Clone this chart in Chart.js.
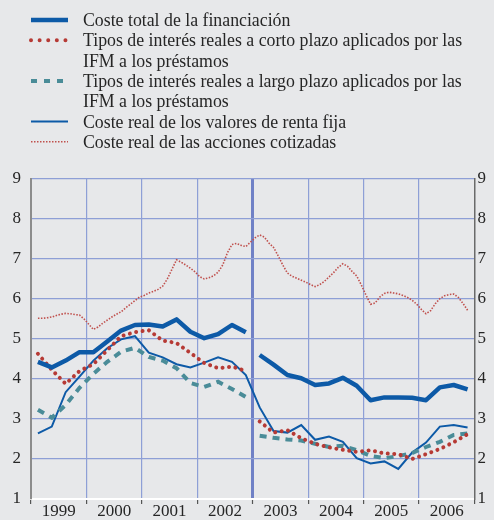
<!DOCTYPE html>
<html>
<head>
<meta charset="utf-8">
<script src="https://cdn.jsdelivr.net/npm/chart.js@4"></script>
<style>
  html, body { margin: 0; padding: 0; background: #e7e8ea; }
  #myChart { display: block; }
</style>
</head>
<body>
<canvas id="myChart" width="494" height="520"></canvas>
<script>
const ctx = document.getElementById('myChart')

const years = [1999, 2000, 2001, 2002, 2003, 2004, 2005, 2006]

// quarterly series, 1999 T1 - 2006 T4
const costeTotal = [4.43, 4.29, 4.46, 4.67, 4.67, 4.94, 5.21, 5.35, 5.36, 5.31, 5.49, 5.18, 5.02, 5.12, 5.35, 5.17,
  4.6, 4.36, 4.1, 4.02, 3.85, 3.89, 4.03, 3.83, 3.47, 3.54, 3.54, 3.53, 3.47, 3.79, 3.85, 3.74]
const cortoPlazo = [4.63, 4.23, 3.88, 4.2, 4.37, 4.72, 5.07, 5.17, 5.22, 4.96, 4.9, 4.65, 4.4, 4.27, 4.31, 4.2,
  2.94, 2.66, 2.72, 2.52, 2.38, 2.29, 2.23, 2.18, 2.22, 2.14, 2.12, 2.0, 2.12, 2.25, 2.42, 2.62]
const largoPlazo = [3.23, 3.03, 3.35, 3.78, 4.13, 4.43, 4.68, 4.78, 4.55, 4.46, 4.27, 3.9, 3.8, 3.93, 3.75, 3.55,
  2.58, 2.53, 2.49, 2.46, 2.38, 2.3, 2.33, 2.22, 2.08, 2.02, 2.07, 2.15, 2.3, 2.43, 2.6, 2.64]
const rentaFija = [2.64, 2.81, 3.67, 4.06, 4.46, 4.77, 4.99, 5.07, 4.66, 4.54, 4.37, 4.29, 4.41, 4.54, 4.43, 4.1,
  3.29, 2.7, 2.66, 2.85, 2.48, 2.56, 2.43, 2.02, 1.89, 1.94, 1.75, 2.16, 2.41, 2.81, 2.85, 2.79]

// monthly series, feb 1999 - nov 2006
const accionesFirstMonth = 1
const acciones = [5.52, 5.52, 5.53, 5.55, 5.59, 5.62, 5.64, 5.63, 5.61, 5.6, 5.5,
  5.37, 5.24, 5.3, 5.39, 5.47, 5.55, 5.62, 5.68, 5.78, 5.87, 5.96, 6.05,
  6.09, 6.15, 6.19, 6.24, 6.32, 6.5, 6.74, 6.98, 6.92, 6.85, 6.77, 6.68,
  6.56, 6.5, 6.53, 6.58, 6.67, 6.85, 7.15, 7.36, 7.39, 7.34, 7.31, 7.42,
  7.53, 7.6, 7.55, 7.4, 7.29, 7.08, 6.85, 6.65, 6.57, 6.52, 6.47, 6.42,
  6.36, 6.31, 6.36, 6.44, 6.55, 6.66, 6.79, 6.88, 6.82, 6.69, 6.575, 6.35,
  6.1, 5.87, 5.9, 6.05, 6.14, 6.17, 6.15, 6.13, 6.09, 6.04, 5.97, 5.87,
  5.74, 5.63, 5.71, 5.88, 6.01, 6.08, 6.11, 6.125, 6.04, 5.89, 5.72]

// series for MFI loans and total cost restart in 2003 T1
const breakQuarter = 16

const yTicks = [1, 2, 3, 4, 5, 6, 7, 8, 9]

const labels = [
  ['Coste total de la financiación'],
  ['Tipos de interés reales a corto plazo aplicados por las', 'IFM a los préstamos'],
  ['Tipos de interés reales a largo plazo aplicados por las', 'IFM a los préstamos'],
  ['Coste real de los valores de renta fija'],
  ['Coste real de las acciones cotizadas']
]

function quarterPoints(values, gapAt) {
  const pts = []
  values.forEach((v, i) => {
    if (i === gapAt) pts.push({ x: years[0] + i / 4, y: null })
    pts.push({ x: years[0] + (i + 0.5) / 4, y: v })
  })
  return pts
}

function monthPoints(values, first) {
  return values.map((v, i) => ({ x: years[0] + (first + i + 0.5) / 12, y: v }))
}

const xTickValues = []
years.forEach(y => { xTickValues.push(y, y + 0.5) })
xTickValues.push(years[years.length - 1] + 1)

const gridColor = '#8e9fd6'
const textColor = '#262626'
const fontFamily = '"Liberation Serif", "Times New Roman", serif'
const font = { family: fontFamily, size: 17 }
const legendFontSize = 17.8

// draws the legend above the plot
const legendPlugin = {
  id: 'topLegend',
  afterDraw(chart) {
    const c = chart.ctx
    let baseline = 26
    chart.data.datasets.forEach(ds => {
      c.save()
      c.strokeStyle = ds.borderColor
      c.lineWidth = ds.borderWidth
      c.setLineDash(ds.legendDash || ds.borderDash || [])
      c.lineCap = ds.borderCapStyle || 'butt'
      c.beginPath()
      c.moveTo(31, baseline - 6)
      c.lineTo(68, baseline - 6)
      c.stroke()
      c.restore()

      c.save()
      c.fillStyle = textColor
      c.font = legendFontSize + 'px ' + fontFamily
      c.textBaseline = 'alphabetic'
      ds.label.forEach(line => {
        c.fillText(line, 83, baseline)
        baseline += 20.3
      })
      c.restore()
    })
  }
}

new Chart(ctx, {
  type: 'line',
  data: {
    datasets: [
      {
        label: labels[0],
        data: quarterPoints(costeTotal, breakQuarter),
        borderColor: '#0d5aa7',
        borderWidth: 4.5,
        borderJoinStyle: 'round'
      },
      {
        label: labels[1],
        data: quarterPoints(cortoPlazo, breakQuarter),
        borderColor: '#b63a35',
        borderWidth: 4,
        borderDash: [0.01, 6.5],
        legendDash: [0.01, 8.6],
        borderCapStyle: 'round'
      },
      {
        label: labels[2],
        data: quarterPoints(largoPlazo, breakQuarter),
        borderColor: '#4a8c98',
        borderWidth: 4,
        borderDash: [7, 6],
        legendDash: [6, 7]
      },
      {
        label: labels[3],
        data: quarterPoints(rentaFija, -1),
        borderColor: '#0d5aa7',
        borderWidth: 2
      },
      {
        label: labels[4],
        data: monthPoints(acciones, accionesFirstMonth),
        borderColor: '#c0504d',
        borderWidth: 1.6,
        borderDash: [1.5, 1.5]
      }
    ]
  },
  options: {
    responsive: false,
    animation: false,
    layout: { padding: { top: 179, left: 0, right: 0, bottom: 0 } },
    elements: { point: { radius: 0 }, line: { tension: 0 } },
    plugins: { legend: { display: false }, tooltip: { enabled: false } },
    scales: {
      x: {
        type: 'linear',
        min: years[0],
        max: years[years.length - 1] + 1,
        afterBuildTicks: scale => { scale.ticks = xTickValues.map(v => ({ value: v })) },
        afterFit: scale => { scale.height = 21 },
        ticks: {
          autoSkip: false,
          maxRotation: 0,
          padding: -3,
          color: textColor,
          font: font,
          callback: v => (Number.isInteger(v) ? '' : String(Math.floor(v)))
        },
        grid: {
          color: c => {
            const v = c.tick && c.tick.value
            if (!Number.isInteger(v) || v === years[0] || v === years[years.length - 1] + 1) return 'transparent'
            return v === 2003 ? '#7081c6' : gridColor
          },
          lineWidth: c => (c.tick && c.tick.value === 2003 ? 3 : 1.2),
          tickLength: 5,
          tickWidth: 1.2,
          tickColor: c => (c.tick && Number.isInteger(c.tick.value) ? '#555' : 'transparent')
        },
        border: { color: '#ffffff', width: 2 }
      },
      y: {
        min: 1,
        max: 9,
        afterBuildTicks: scale => { scale.ticks = yTicks.map(v => ({ value: v })) },
        afterFit: scale => { scale.width = 31 },
        ticks: { padding: 10, color: textColor, font: font },
        grid: {
          color: c => (c.tick && c.tick.value === 1 ? 'transparent' : gridColor),
          lineWidth: 1.2,
          drawTicks: false
        },
        border: { color: '#8c8c8c', width: 2 }
      },
      y2: {
        position: 'right',
        min: 1,
        max: 9,
        afterBuildTicks: scale => { scale.ticks = yTicks.map(v => ({ value: v })) },
        afterFit: scale => { scale.width = 19.5 },
        ticks: { padding: 3, color: textColor, font: font },
        grid: { display: false, drawTicks: false },
        border: { color: '#6a6a6a', width: 1.5 }
      }
    }
  },
  plugins: [legendPlugin]
})
</script>
</body>
</html>
